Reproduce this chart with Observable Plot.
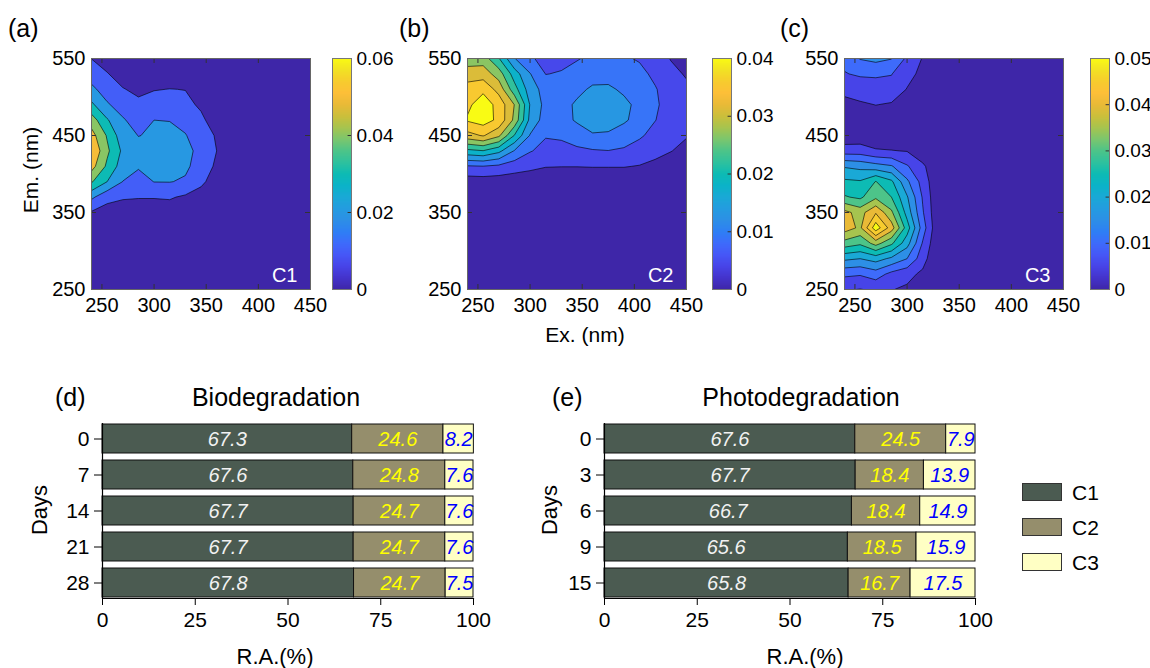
<!DOCTYPE html>
<html><head><meta charset="utf-8">
<script src="https://cdn.jsdelivr.net/npm/d3@7"></script>
<script src="https://cdn.jsdelivr.net/npm/@observablehq/plot@0.6"></script>
<style>
body{margin:0;background:#fff;}
#root{position:relative;width:1150px;height:668px;overflow:hidden;background:#fff;font-family:"Liberation Sans",Arial,sans-serif;color:#000;}
.lbl{position:absolute;white-space:nowrap;line-height:1;}
</style></head><body><div id="root"></div>
<script>
// ---------- EEM component grids (rows: Em from 550 down to 250; columns: Ex 240..450) ----------
const exGrid = [240,255,270,285,300,315,330,345,360,375,390,405,420,435,450];
const emGrid = [550,530,510,490,470,450,430,410,390,370,350,330,310,290,270,250];
const exTicks = [250,300,350,400,450];
const emTicks = [250,350,450,550];

const c1Grid = [
  [0.0098,0.006,0.003,0.002,0.002,0.002,0.001,0,0,0,0,0,0,0,0],
  [0.016,0.0105,0.006,0.004,0.004,0.004,0.003,0.002,0.001,0,0,0,0,0,0],
  [0.022,0.016,0.0105,0.008,0.0095,0.0102,0.0098,0.006,0.003,0.001,0,0,0,0,0],
  [0.032,0.021,0.016,0.012,0.0148,0.0143,0.0125,0.0085,0.003,0,0,0,0,0,0],
  [0.045,0.031,0.021,0.016,0.0200,0.0198,0.017,0.012,0.005,0.001,0,0,0,0,0],
  [0.054,0.039,0.024,0.0198,0.021,0.022,0.0205,0.015,0.009,0.002,0,0,0,0,0],
  [0.0595,0.042,0.028,0.023,0.024,0.024,0.022,0.018,0.010,0.003,0,0,0,0,0],
  [0.054,0.038,0.025,0.021,0.022,0.022,0.0215,0.0165,0.008,0.001,0,0,0,0,0],
  [0.041,0.030,0.0198,0.016,0.0202,0.0203,0.019,0.013,0.003,0,0,0,0,0,0],
  [0.022,0.013,0.011,0.0105,0.0105,0.011,0.0085,0.004,0.001,0,0,0,0,0,0],
  [0.009,0.006,0.005,0.005,0.005,0.005,0.004,0.002,0,0,0,0,0,0,0],
  [0.004,0.003,0.002,0.002,0.002,0.002,0.001,0,0,0,0,0,0,0,0],
  [0.002,0.001,0.001,0.001,0.001,0,0,0,0,0,0,0,0,0,0],
  [0,0,0,0,0,0,0,0,0,0,0,0,0,0,0],
  [0,0,0,0,0,0,0,0,0,0,0,0,0,0,0],
  [0,0,0,0,0,0,0,0,0,0,0,0,0,0,0]
];
const c2Grid = [
  [0.028,0.029,0.0225,0.0135,0.0095,0.0075,0.0078,0.0086,0.0098,0.0100,0.0094,0.0085,0.0065,0.0042,0.0030],
  [0.034,0.0335,0.029,0.020,0.0135,0.0088,0.0092,0.0105,0.0120,0.0122,0.0115,0.0100,0.0080,0.0055,0.0040],
  [0.037,0.039,0.034,0.024,0.0155,0.0115,0.0115,0.0125,0.0138,0.0138,0.0128,0.0112,0.0092,0.0068,0.0052],
  [0.039,0.0425,0.0385,0.031,0.0175,0.0118,0.0122,0.0138,0.0148,0.0148,0.0140,0.0125,0.0095,0.0072,0.0058],
  [0.0405,0.042,0.039,0.030,0.0165,0.0112,0.0118,0.0138,0.0148,0.0148,0.0138,0.0120,0.0090,0.0070,0.0058],
  [0.034,0.036,0.032,0.022,0.0130,0.0092,0.0094,0.0112,0.0130,0.0128,0.0115,0.0095,0.0075,0.0058,0.0046],
  [0.021,0.022,0.019,0.013,0.0092,0.0075,0.0078,0.0080,0.0085,0.0088,0.0082,0.0070,0.0055,0.0045,0.0035],
  [0.0085,0.0088,0.0080,0.0065,0.0055,0.0046,0.0045,0.0045,0.0046,0.0046,0.0046,0.0042,0.0035,0.0028,0.0022],
  [0.002,0.0022,0.002,0.0018,0.0016,0.0015,0.0015,0.0015,0.0015,0.0015,0.0015,0.0014,0.0012,0.001,0.001],
  [0.0005,0.0005,0.0005,0.0005,0.0004,0.0004,0.0004,0.0004,0.0004,0.0004,0.0004,0.0004,0.0003,0.0003,0.0003],
  [0,0,0,0,0,0,0,0,0,0,0,0,0,0,0],
  [0,0,0,0,0,0,0,0,0,0,0,0,0,0,0],
  [0,0,0,0,0,0,0,0,0,0,0,0,0,0,0],
  [0,0,0,0,0,0,0,0,0,0,0,0,0,0,0],
  [0,0,0,0,0,0,0,0,0,0,0,0,0,0,0],
  [0,0,0,0,0,0,0,0,0,0,0,0,0,0,0]
];
const c3Grid = [
  [0.0110,0.0153,0.0165,0.0152,0.0090,0.0047,0.0020,0.001,0,0,0,0,0,0,0],
  [0.0098,0.0105,0.0105,0.0102,0.0065,0.0038,0.0015,0.0005,0,0,0,0,0,0,0],
  [0.0068,0.0078,0.0085,0.0080,0.0048,0.0030,0.0010,0,0,0,0,0,0,0,0],
  [0.0030,0.0042,0.0051,0.0045,0.0040,0.0020,0.0010,0,0,0,0,0,0,0,0],
  [0.0015,0.0018,0.0020,0.0018,0.0012,0.0008,0,0,0,0,0,0,0,0,0],
  [0.0015,0.0018,0.0018,0.0015,0.0012,0.0008,0.0003,0,0,0,0,0,0,0,0],
  [0.0075,0.0075,0.0055,0.0052,0.0048,0.0015,0,0,0,0,0,0,0,0,0],
  [0.0195,0.0185,0.017,0.0155,0.0105,0.006,0.0005,0,0,0,0,0,0,0,0],
  [0.026,0.0255,0.0302,0.026,0.016,0.008,0.0005,0,0,0,0,0,0,0,0],
  [0.0305,0.029,0.034,0.030,0.0205,0.0095,0.0005,0,0,0,0,0,0,0,0],
  [0.0415,0.038,0.0445,0.036,0.023,0.0105,0.0005,0,0,0,0,0,0,0,0],
  [0.0425,0.039,0.053,0.0425,0.0275,0.0125,0.0005,0,0,0,0,0,0,0,0],
  [0.033,0.031,0.037,0.031,0.022,0.0095,0.0003,0,0,0,0,0,0,0,0],
  [0.021,0.020,0.022,0.019,0.015,0.007,0,0,0,0,0,0,0,0,0],
  [0.011,0.0105,0.0125,0.0085,0.0065,0.004,0,0,0,0,0,0,0,0,0],
  [0.0055,0.0048,0.0058,0.0052,0.0042,0.002,0,0,0,0,0,0,0,0,0]
];
const c1Levels = [0,0.01,0.02,0.03,0.04,0.05,0.06];
const c2Levels = [0,0.0044,0.0089,0.0133,0.0178,0.0222,0.0267,0.0311,0.0356,0.04];
const c3Levels = [0,0.005,0.01,0.015,0.02,0.025,0.03,0.035,0.04,0.045,0.05];
const c1Max = 0.06, c2Max = 0.04, c3Max = 0.05;
const c1BarTicks = [0,0.02,0.04,0.06];
const c2BarTicks = [0,0.01,0.02,0.03,0.04];
const c3BarTicks = [0,0.01,0.02,0.03,0.04,0.05];

// ---------- relative abundance bars ----------
const comps = ["C1","C2","C3"];
const bioDays = [0,7,14,21,28];
const bioC1 = [67.3,67.6,67.7,67.7,67.8];
const bioC2 = [24.6,24.8,24.7,24.7,24.7];
const bioC3 = [8.2,7.6,7.6,7.6,7.5];
const photoDays = [0,3,6,9,15];
const photoC1 = [67.6,67.7,66.7,65.6,65.8];
const photoC2 = [24.5,18.4,18.4,18.5,16.7];
const photoC3 = [7.9,13.9,14.9,15.9,17.5];
const raTicks = [0,25,50,75,100];

// ---------- styling ----------
const FONT = '"Liberation Sans", Arial, sans-serif';
const parula = ["#3e26a8","#4433cb","#4744e8","#4657f7","#3e6bfb","#2e7ff5","#2d8fe6","#249ce0","#1aa9d6","#0bb3c8","#0dbbb4","#2ec19e","#4dc489","#7bc66e","#a6c44f","#cbbf3b","#e9ba37","#fdbf38","#f7cc2e","#f2e224","#f9fb14"];
const parulaInterp = d3.piecewise(d3.interpolateRgb, parula);
const compFill = ["#4b5b51","#958e6c","#ffffc4"];
const compText = ["#f2f2f2","#ffff00","#0000ff"];

const root = document.getElementById("root");
function place(node, left, top) {
  node.style.position = "absolute";
  node.style.left = left + "px";
  node.style.top = top + "px";
  root.appendChild(node);
}
function label(text, x, y, size, anchor = "middle", rotate = 0) {
  const s = document.createElement("div");
  s.className = "lbl";
  s.textContent = text;
  s.style.fontSize = size + "px";
  s.style.left = x + "px";
  s.style.top = y + "px";
  const tx = anchor === "start" ? "0" : anchor === "end" ? "-100%" : "-50%";
  s.style.transform = `translate(${tx},-50%)` + (rotate ? ` rotate(${rotate}deg)` : "");
  root.appendChild(s);
}

// ---------- EEM panels ----------
const FW = 219, FH = 231, MT = 58, ML = 91, MB = 34, MR = 12;
function eemPanel(grid, levels, max, name, frameLeft) {
  const dx = exGrid[1] - exGrid[0], dy = emGrid[0] - emGrid[1];
  const xDom = [exGrid[0], exGrid[exGrid.length - 1]];
  const yDom = [emGrid[emGrid.length - 1], emGrid[0]];
  const tlx = 5 * (xDom[1] - xDom[0]) / FW, tly = 5 * (yDom[1] - yDom[0]) / FH;
  const svg = Plot.plot({
    width: ML + FW + MR, height: MT + FH + MB,
    marginLeft: ML, marginRight: MR, marginTop: MT, marginBottom: MB,
    style: {fontFamily: FONT, fontSize: "20px", color: "#000", background: "transparent", overflow: "visible"},
    x: {domain: xDom},
    y: {domain: yDom},
    color: {type: "linear", domain: [0, max], interpolate: parulaInterp},
    marks: [
      Plot.contour(grid.flat(), {
        width: exGrid.length, height: emGrid.length,
        x1: xDom[0] - dx / 2, x2: xDom[1] + dx / 2,
        y1: emGrid[0] + dy / 2, y2: yDom[0] - dy / 2,
        thresholds: levels, fill: Plot.identity, stroke: "#000", strokeWidth: 0.6, clip: true
      }),
      Plot.ruleX(exTicks, {x: d => d, y1: yDom[0], y2: yDom[0] + tly, stroke: "#333"}),
      Plot.ruleX(exTicks, {x: d => d, y1: yDom[1] - tly, y2: yDom[1], stroke: "#333"}),
      Plot.ruleY(emTicks, {y: d => d, x1: xDom[0], x2: xDom[0] + tlx, stroke: "#333"}),
      Plot.ruleY(emTicks, {y: d => d, x1: xDom[1] - tlx, x2: xDom[1], stroke: "#333"}),
      Plot.frame({stroke: "#666"}),
      Plot.axisX({ticks: exTicks, tickSize: 0, tickPadding: 8, label: null}),
      Plot.axisY({ticks: emTicks, tickSize: 0, tickPadding: 6, label: null}),
      Plot.text([name], {frameAnchor: "bottom-right", dx: -13, dy: -8, fill: "#fff", fontSize: 20, textAnchor: "end"})
    ]
  });
  place(svg, frameLeft - ML, 0);
}
function colorbar(max, ticks, barLeft) {
  const BW = 19;
  const svg = Plot.plot({
    width: 1 + BW + 56, height: MT + FH + MB,
    marginLeft: 1, marginRight: 56, marginTop: MT, marginBottom: MB,
    style: {fontFamily: FONT, fontSize: "19px", color: "#000", background: "transparent", overflow: "visible"},
    x: {domain: [0, 1], axis: null},
    y: {domain: [0, max]},
    color: {type: "linear", domain: [0, max], interpolate: parulaInterp},
    marks: [
      Plot.raster({x1: 0, x2: 1, y1: 0, y2: max, width: 1, height: 256, fill: (x, y) => y}),
      Plot.ruleY(ticks, {y: d => d, x1: 0.82, x2: 1, stroke: "#333"}),
      Plot.frame({stroke: "#777"}),
      Plot.axisY({anchor: "right", ticks, tickSize: 0, tickPadding: 5, label: null,
        tickFormat: d => d === 0 ? "0" : d3.format(".2f")(d)})
    ]
  });
  place(svg, barLeft - 1, 0);
}

eemPanel(c1Grid, c1Levels, c1Max, "C1", 91);
eemPanel(c2Grid, c2Levels, c2Max, "C2", 467);
eemPanel(c3Grid, c3Levels, c3Max, "C3", 844);
colorbar(c1Max, c1BarTicks, 332);
colorbar(c2Max, c2BarTicks, 712);
colorbar(c3Max, c3BarTicks, 1090);

label("(a)", 8, 28, 25, "start");
label("(b)", 399, 28, 25, "start");
label("(c)", 780, 28, 25, "start");
label("Em. (nm)", 30, 170, 21, "middle", -90);
label("Ex. (nm)", 585, 334, 21);

// ---------- bar panels ----------
function barPanel(days, v1, v2, v3, frameLeft) {
  const rows = days.flatMap((d, i) => [
    {day: d, comp: comps[0], value: v1[i]},
    {day: d, comp: comps[1], value: v2[i]},
    {day: d, comp: comps[2], value: v3[i]}
  ]);
  const BML = 104, BMT = 23, BFW = 371, BFH = 175;
  const svg = Plot.plot({
    width: BML + BFW + 22, height: BMT + BFH + 42,
    marginLeft: BML, marginRight: 22, marginTop: BMT, marginBottom: 42,
    style: {fontFamily: FONT, fontSize: "21px", color: "#000", background: "transparent", overflow: "visible"},
    x: {domain: [0, 100]},
    y: {domain: days, paddingInner: 0.2, paddingOuter: 0},
    color: {domain: comps, range: compFill},
    marks: [
      Plot.barX(rows, Plot.stackX({x: "value", y: "day", z: "comp", fill: "comp", stroke: "#111", strokeWidth: 1})),
      ...comps.map((c, k) => Plot.text(rows, Plot.stackX({
        x: "value", y: "day", z: "comp",
        text: d => d.comp === c ? d.value.toFixed(1) : null,
        fill: compText[k], fontStyle: "italic", fontSize: 20, dy: 1
      }))),
      Plot.ruleX([0], {stroke: "#000", strokeWidth: 1.2}),
      Plot.frame({anchor: "bottom", stroke: "#000", strokeWidth: 1.2}),
      Plot.axisY({tickSize: 8, tickPadding: 5, label: null, fontSize: 21}),
      Plot.axisX({ticks: raTicks, tickSize: 7, tickPadding: 7, label: null, fontSize: 21})
    ]
  });
  place(svg, frameLeft - BML, 400);
}
barPanel(bioDays, bioC1, bioC2, bioC3, 102);
barPanel(photoDays, photoC1, photoC2, photoC3, 604);

label("(d)", 55, 397, 25, "start");
label("Biodegradation", 276, 397, 25);
label("Days", 40, 510, 22, "middle", -90);
label("R.A.(%)", 275, 657, 22);
label("(e)", 552, 397, 25, "start");
label("Photodegradation", 801, 397, 25);
label("Days", 550, 510, 22, "middle", -90);
label("R.A.(%)", 805, 657, 22);

// ---------- legend ----------
comps.forEach((c, k) => {
  const sw = document.createElement("div");
  sw.style.width = "38px"; sw.style.height = "16px";
  sw.style.background = compFill[k];
  sw.style.border = "1px solid #333";
  place(sw, 1022, 483 + 35 * k);
  label(c, 1072, 492 + 35 * k, 21, "start");
});
</script></body></html>
